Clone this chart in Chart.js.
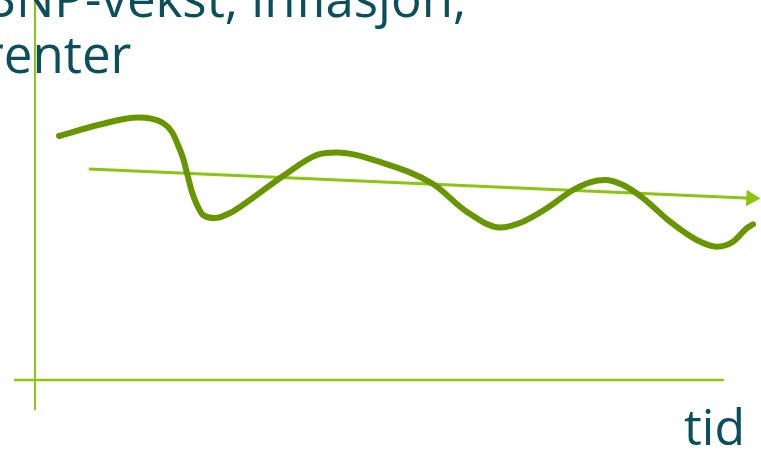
<!DOCTYPE html>
<html>
<head>
<meta charset="utf-8">
<script src="https://cdn.jsdelivr.net/npm/chart.js@4/dist/chart.umd.min.js"></script>
<style>
  body { margin: 0; background: #fff; overflow: hidden; }
  #wrap { position: relative; width: 761px; height: 456px; overflow: hidden; }
  .txt { position: absolute; font-family: "Open Sans", sans-serif; color: #0b4f5b; white-space: nowrap; }
  #tittel { left: -17px; top: -31px; font-size: 51px; line-height: 56px; }
  #tid { left: 684px; top: 398px; font-size: 50px; line-height: 56px; }
</style>
</head>
<body>
<div id="wrap">
  <canvas id="graf"></canvas>
  <div class="txt" id="tittel">BNP-vekst, inflasjon,<br>renter</div>
  <div class="txt" id="tid">tid</div>
</div>
<script>
// Konjunktursvingninger rundt en fallende trend (x = tid, y = nivå)
const tid = [3.49, 9.45, 14.97, 18.60, 19.91, 20.78, 21.51, 22.09, 22.82, 23.55, 24.42, 26.16,
  28.34, 30.52, 36.05, 40.94, 43.85, 50.58, 57.85, 62.75, 67.59, 70.93, 74.38, 78.20, 80.67,
  82.85, 85.47, 88.37, 92.30, 96.18, 99.08, 101.45, 103.44, 104.36];
const nivaa = [64.21, 67.24, 69.08, 67.63, 65.26, 61.84, 58.42, 54.47, 49.47, 46.05, 43.42, 42.63,
  43.95, 46.45, 53.68, 59.21, 59.87, 57.11, 51.58, 44.29, 40.13, 41.66, 45.18, 50.00, 52.03,
  52.63, 51.32, 47.89, 41.66, 36.84, 35.08, 36.39, 39.92, 40.97];

// Trendlinje (start og slutt)
const trendTid = [7.85, 104.07];
const trendNivaa = [55.5, 47.84];

// Aksene
const xAkseTid = [-3.05, 100.1];
const yAkseNivaa = [100, -7.9];

const gronn = "rgb(103, 150, 0)";
const lysgronn = "rgb(140, 196, 18)";

function punkter(xs, ys) {
    return xs.map((x, i) => ({ x: x, y: ys[i] }));
}

new Chart(document.getElementById("graf"), {
    type: "line",
    data: {
        datasets: [
            {
                data: punkter(xAkseTid, [0, 0]),
                borderColor: lysgronn,
                borderWidth: 2.5,
                pointRadius: 0
            },
            {
                data: punkter([0, 0], yAkseNivaa),
                borderColor: lysgronn,
                borderWidth: 2,
                pointRadius: 0
            },
            {
                data: punkter(tid, nivaa),
                borderColor: gronn,
                borderWidth: 6,
                borderCapStyle: "round",
                borderJoinStyle: "round",
                cubicInterpolationMode: "monotone",
                pointRadius: 0
            },
            {
                data: punkter(trendTid, trendNivaa),
                borderColor: lysgronn,
                borderWidth: 3,
                pointStyle: "triangle",
                pointRadius: [0, 9.5],
                rotation: [0, 92.5],
                pointBackgroundColor: lysgronn,
                pointBorderColor: lysgronn,
                pointBorderWidth: 0
            }
        ]
    },
    options: {
        responsive: true,
        maintainAspectRatio: false,
        animation: false,
        layout: { padding: 0, autoPadding: false },
        datasets: { line: { clip: false } },
        scales: {
            x: { type: "linear", min: -5.087, max: 105.52, display: false },
            y: { min: -20, max: 100, display: false }
        },
        plugins: {
            legend: { display: false },
            tooltip: { enabled: false }
        }
    }
});
</script>
</body>
</html>
